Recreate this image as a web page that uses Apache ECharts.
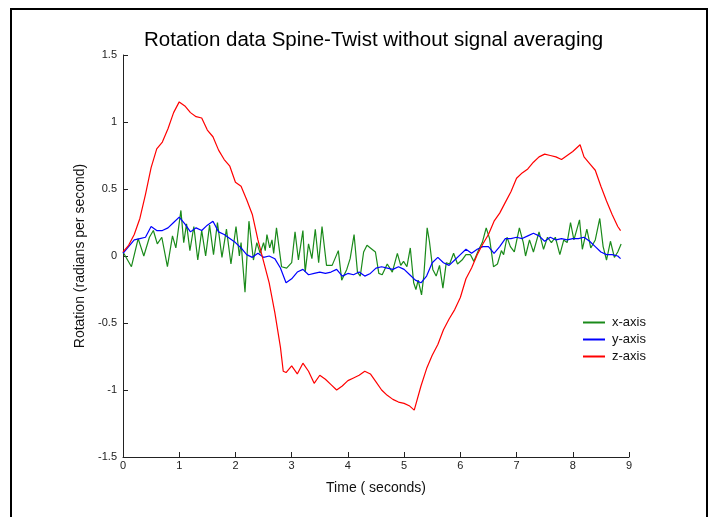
<!DOCTYPE html>
<html>
<head>
<meta charset="utf-8">
<script src="https://cdn.jsdelivr.net/npm/echarts@6/dist/echarts.min.js"></script>
<style>html,body{margin:0;padding:0;background:#fff}#c{width:713px;height:517px}</style>
</head>
<body>
<div id="c"></div>
<script>
const titleText = "Rotation data Spine-Twist without signal averaging";
const xName = "Time ( seconds)";
const yName = "Rotation (radians per second)";
const seriesNames = ["x-axis", "y-axis", "z-axis"];

// z-axis (red)
const zTimes = [0.0,0.1,0.2,0.3,0.4,0.5,0.6,0.7,0.8,0.9,1.0,1.1,1.2,1.3,1.4,1.5,1.6,1.7,1.8,1.9,2.0,2.1,2.2,2.3,2.4,2.5,2.6,2.7,2.8,2.85,2.9,3.0,3.1,3.2,3.3,3.4,3.5,3.6,3.7,3.8,3.9,4.0,4.1,4.2,4.3,4.4,4.5,4.6,4.7,4.8,4.9,5.0,5.1,5.18,5.3,5.4,5.5,5.6,5.7,5.8,5.9,6.0,6.1,6.2,6.3,6.4,6.5,6.6,6.7,6.8,6.9,7.0,7.1,7.2,7.3,7.4,7.5,7.6,7.7,7.8,7.9,8.0,8.13,8.2,8.3,8.4,8.5,8.6,8.7,8.8,8.85];
const zValues = [0.03,0.08,0.16,0.28,0.46,0.66,0.80,0.85,0.95,1.07,1.15,1.12,1.07,1.04,1.03,0.94,0.89,0.79,0.72,0.67,0.55,0.52,0.42,0.31,0.12,-0.04,-0.20,-0.42,-0.68,-0.86,-0.87,-0.82,-0.88,-0.80,-0.86,-0.95,-0.89,-0.92,-0.96,-1.00,-0.97,-0.93,-0.91,-0.89,-0.86,-0.88,-0.94,-1.00,-1.04,-1.07,-1.09,-1.10,-1.12,-1.15,-0.97,-0.84,-0.74,-0.66,-0.55,-0.47,-0.40,-0.31,-0.17,-0.09,0.01,0.09,0.16,0.26,0.32,0.40,0.48,0.58,0.62,0.65,0.70,0.74,0.76,0.75,0.74,0.72,0.75,0.78,0.83,0.74,0.69,0.64,0.52,0.41,0.31,0.22,0.19];

// y-axis (blue)
const yTimes = [0.0,0.1,0.2,0.3,0.4,0.5,0.6,0.7,0.8,0.9,1.0,1.1,1.2,1.3,1.4,1.5,1.6,1.7,1.8,1.9,2.0,2.1,2.2,2.3,2.4,2.5,2.6,2.7,2.8,2.9,3.0,3.1,3.2,3.3,3.4,3.5,3.6,3.7,3.8,3.9,4.0,4.1,4.2,4.3,4.4,4.5,4.6,4.7,4.8,4.9,5.0,5.1,5.2,5.3,5.4,5.5,5.6,5.7,5.8,5.9,6.0,6.1,6.2,6.3,6.4,6.5,6.6,6.7,6.8,6.9,7.0,7.1,7.2,7.3,7.4,7.5,7.6,7.7,7.8,7.9,8.0,8.1,8.2,8.3,8.4,8.5,8.6,8.7,8.8,8.85];
const yValues = [0.02,0.07,0.12,0.13,0.14,0.22,0.19,0.19,0.21,0.25,0.29,0.24,0.18,0.21,0.19,0.23,0.26,0.18,0.16,0.13,0.10,0.06,0.01,-0.01,0.02,-0.01,0.00,-0.02,-0.09,-0.20,-0.17,-0.12,-0.10,-0.14,-0.13,-0.12,-0.13,-0.12,-0.10,-0.15,-0.13,-0.14,-0.12,-0.15,-0.13,-0.09,-0.08,-0.09,-0.10,-0.08,-0.10,-0.14,-0.18,-0.20,-0.15,-0.05,-0.01,-0.05,-0.07,-0.03,0.01,0.05,0.02,0.05,0.07,0.07,0.02,0.07,0.13,0.13,0.14,0.13,0.15,0.17,0.15,0.11,0.14,0.12,0.13,0.12,0.13,0.13,0.14,0.11,0.07,0.03,0.01,0.01,0.00,-0.02];

// x-axis (green), read at its peaks and troughs
const xTimes = [0.00,0.15,0.27,0.37,0.47,0.54,0.61,0.69,0.79,0.88,0.94,1.03,1.08,1.13,1.19,1.26,1.33,1.40,1.47,1.54,1.61,1.68,1.76,1.84,1.92,2.01,2.07,2.10,2.17,2.24,2.32,2.38,2.44,2.50,2.53,2.56,2.61,2.65,2.68,2.73,2.82,2.91,3.00,3.06,3.12,3.20,3.24,3.30,3.36,3.42,3.48,3.54,3.62,3.72,3.83,3.89,3.98,4.04,4.11,4.17,4.22,4.28,4.34,4.40,4.49,4.55,4.61,4.70,4.79,4.88,4.94,4.99,5.05,5.11,5.17,5.21,5.25,5.31,5.35,5.41,5.45,5.51,5.57,5.63,5.69,5.75,5.81,5.88,5.95,6.03,6.10,6.18,6.24,6.33,6.39,6.46,6.52,6.59,6.66,6.73,6.77,6.83,6.89,6.96,7.05,7.12,7.16,7.23,7.30,7.40,7.48,7.55,7.62,7.69,7.77,7.84,7.90,7.96,8.02,8.12,8.17,8.25,8.32,8.40,8.48,8.54,8.60,8.67,8.74,8.80,8.86];
const xValues = [0.03,-0.08,0.13,0.00,0.14,0.19,0.09,0.14,-0.08,0.15,0.06,0.34,0.10,0.24,0.04,0.22,-0.03,0.19,0.00,0.23,0.01,0.25,-0.01,0.20,-0.06,0.22,0.00,0.10,-0.27,0.26,-0.03,0.10,0.02,0.10,0.04,0.16,0.06,0.12,0.02,0.21,-0.08,-0.09,-0.05,0.18,-0.03,0.19,-0.12,0.09,-0.02,0.20,-0.05,0.22,-0.07,-0.07,0.04,-0.18,-0.10,-0.02,0.16,-0.12,-0.15,0.03,0.08,0.06,0.03,-0.13,-0.14,-0.06,-0.12,0.02,-0.07,-0.04,-0.08,0.06,-0.20,-0.25,-0.18,-0.29,-0.15,0.21,0.11,-0.10,-0.15,-0.07,-0.24,-0.05,-0.06,0.02,-0.06,-0.03,0.01,0.01,-0.04,0.05,0.10,0.21,0.13,-0.08,-0.06,0.04,0.01,0.14,0.07,0.03,0.21,0.10,0.00,0.12,0.03,0.18,0.05,0.14,0.10,0.14,0.01,0.12,0.10,0.25,0.12,0.27,0.05,0.20,0.06,0.12,0.28,0.07,-0.03,0.11,-0.01,0.03,0.09];

const pairs = (ts, vs) => ts.map((t, i) => [t, vs[i]]);

const chart = echarts.init(document.getElementById('c'), null, {renderer: 'canvas'});
const fontFam = '"Liberation Sans", Arial, Helvetica, sans-serif';
chart.setOption({
  animation: false,
  backgroundColor: '#fff',
  title: {
    text: titleText, left: 139, top: 25,
    textStyle: {fontFamily: fontFam, fontSize: 20.5, fontWeight: 'normal', color: '#000'}
  },
  graphic: [{
    type: 'rect', shape: {x: 11, y: 9, width: 696, height: 530},
    style: {fill: 'none', stroke: '#000', lineWidth: 2}, silent: true
  }],
  grid: {left: 123, right: 84, top: 55, bottom: 60, containLabel: false},
  legend: {
    data: seriesNames, orient: 'vertical', left: 578, top: 311,
    itemWidth: 22, itemHeight: 2, itemGap: 4, icon: 'rect',
    textStyle: {fontFamily: fontFam, fontSize: 13, color: '#111', padding: [0,0,0,2]}
  },
  xAxis: {
    type: 'value', min: 0, max: 9, interval: 1,
    name: xName, nameLocation: 'middle', nameGap: 24,
    nameTextStyle: {fontFamily: fontFam, fontSize: 14, color: '#111'},
    axisLine: {show: true, onZero: false, lineStyle: {color: '#222', width: 1}},
    axisTick: {show: true, inside: true, length: 5, lineStyle: {color: '#222'}},
    axisLabel: {fontFamily: fontFam, fontSize: 11, color: '#222', margin: 3},
    splitLine: {show: false}
  },
  yAxis: {
    type: 'value', min: -1.5, max: 1.5, interval: 0.5,
    name: yName, nameLocation: 'middle', nameGap: 30, nameRotate: 90,
    nameTextStyle: {fontFamily: fontFam, fontSize: 14, color: '#111'},
    axisLine: {show: true, onZero: false, lineStyle: {color: '#222', width: 1}},
    axisTick: {show: true, inside: true, length: 5, lineStyle: {color: '#222'}},
    axisLabel: {fontFamily: fontFam, fontSize: 11, color: '#222', margin: 6},
    splitLine: {show: false}
  },
  series: [
    {name: seriesNames[0], type: 'line', data: pairs(xTimes, xValues), symbol: 'none', color: '#1a8a1a', lineStyle: {width: 1.2, color: '#1a8a1a'}},
    {name: seriesNames[1], type: 'line', data: pairs(yTimes, yValues), symbol: 'none', color: '#0000ff', lineStyle: {width: 1.2, color: '#0000ff'}},
    {name: seriesNames[2], type: 'line', data: pairs(zTimes, zValues), symbol: 'none', color: '#ff0000', lineStyle: {width: 1.2, color: '#ff0000'}}
  ]
});
</script>
</body>
</html>
